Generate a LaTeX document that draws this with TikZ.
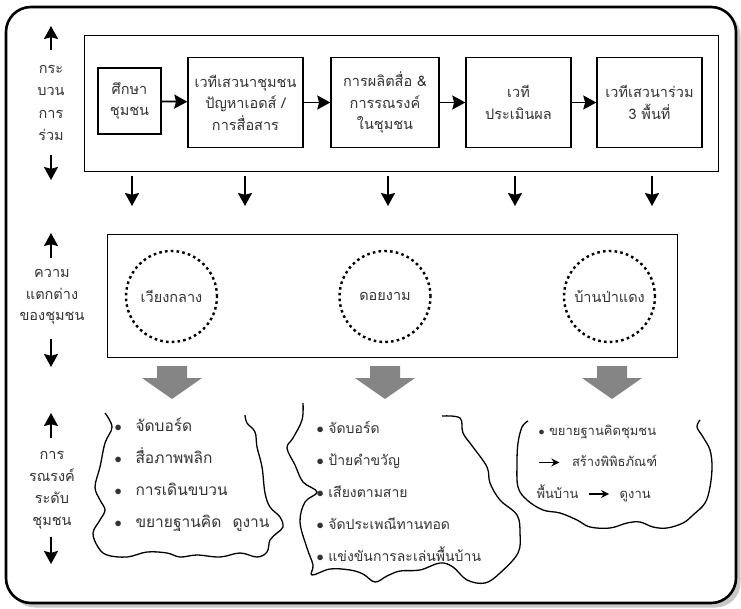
\documentclass[tikz,border=0pt]{standalone}
\usepackage{fontspec}
\setmainfont[Script=Thai]{Loma}
\usetikzlibrary{arrows.meta}
\definecolor{txt}{HTML}{333333}
\definecolor{blockgray}{HTML}{858585}
\definecolor{shadowgray}{HTML}{C8C8C8}
\newcommand\thaiarrow{\tikz[baseline=-0.6ex]\draw[-{Stealth[length=8pt,width=8pt]},line width=1.3pt,black](0pt,0pt)--(20pt,0pt);}
\tikzset{
  arr/.style={-{Stealth[length=13pt,width=14pt,inset=1.8pt]}, line width=1.8pt},
  stepbox/.style={draw, line width=1.4pt, align=center, text=txt, inner sep=2pt,
    font=\fontsize{14.5}{21.5}\selectfont},
  frame/.style={draw, line width=0.9pt},
  sidelabel/.style={align=center, text=txt, font=\fontsize{14.5}{22.5}\selectfont},
  village/.style={circle, draw, line width=2.4pt, dash pattern=on 2.6pt off 3.2pt,
    minimum size=91pt, text=txt, font=\fontsize{14.5}{17}\selectfont},
  blockarrow/.style={fill=blockgray},
  wavy/.style={line width=1.3pt, smooth, tension=0.6},
  listtext/.style={align=left, text=txt, anchor=west}
}
\begin{document}
\begin{tikzpicture}[x=1pt,y=-1pt]
\useasboundingbox (0,0) rectangle (741,608);
% outer frame with shadow
\fill[shadowgray, rounded corners=25pt] (10,11) rectangle (740.5,607.5);
\draw[line width=2.6pt, fill=white, rounded corners=25pt] (6,7) rectangle (736,603);

% ---- row 1: process ----
\node[frame, minimum width=634pt, minimum height=136pt] (procframe) at (401,103) {};
\node[stepbox, minimum width=63pt, minimum height=66pt] (s1) at (129.5,101) {ศึกษา\\ชุมชน};
\node[stepbox, minimum width=115pt, minimum height=90pt] (s2) at (245.5,102.5) {เวทีเสวนาชุมชน\\ปัญหาเอดส์ /\\การสื่อสาร};
\node[stepbox, minimum width=108pt, minimum height=90pt] (s3) at (385,102.5) {การผลิตสื่อ \&\\การรณรงค์\\ในชุมชน};
\node[stepbox, minimum width=105pt, minimum height=90pt] (s4) at (518.5,102.5) {เวที\\ประเมินผล};
\node[stepbox, minimum width=105pt, minimum height=90pt] (s5) at (649.5,102.5) {เวทีเสวนาร่วม\\3 พื้นที่};
\draw[arr] (s1) -- (s2);
\draw[arr] (s2) -- (s3);
\draw[arr] (s3) -- (s4);
\draw[arr] (s4) -- (s5);

% side label 1
\node[sidelabel] (lab1) at (51,103) {กระ\\บวน\\การ\\ร่วม};
\coordinate (u1a) at (51,50); \coordinate (u1b) at (51,26);
\coordinate (d1a) at (51,155); \coordinate (d1b) at (51,180);
\draw[arr] (u1a) -- (u1b);
\draw[arr] (d1a) -- (d1b);

% down arrows
\foreach \i/\xx in {1/132,2/245,3/388,4/515,5/652}{
  \coordinate (da\i) at (\xx,176);
  \coordinate (db\i) at (\xx,206);
  \draw[arr] (da\i) -- (db\i);
}

% ---- row 2: villages ----
\node[frame, minimum width=570pt, minimum height=123pt] (villframe) at (392,295.5) {};
\node[village] (v1) at (171.5,296.5) {เวียงกลาง};
\node[village] (v2) at (385,296.5) {ดอยงาม};
\node[village] (v3) at (609.5,296.5) {บ้านป่าแดง};

% side label 2
\node[sidelabel, font=\fontsize{14.5}{21.5}\selectfont] (lab2) at (52,297) {ความ\\แตกต่าง\\ของชุมชน};
\coordinate (u2a) at (51,258); \coordinate (u2b) at (51,233);
\coordinate (d2a) at (51,339); \coordinate (d2b) at (51,367);
\draw[arr] (u2a) -- (u2b);
\draw[arr] (d2a) -- (d2b);

% grey block arrows
\foreach \xx in {172,385,612}{
  \fill[blockarrow] (\xx-15,366) -- (\xx+15,366) -- (\xx+15,378) -- (\xx+30,378)
     -- (\xx,399) -- (\xx-30,378) -- (\xx-15,378) -- cycle;
}

% side label 3
\node[sidelabel, font=\fontsize{14.5}{22}\selectfont] (lab3) at (52,490) {การ\\รณรงค์\\ระดับ\\ชุมชน};
\coordinate (u3a) at (51,438); \coordinate (u3b) at (51,413);
\coordinate (d3a) at (51,537); \coordinate (d3b) at (51,564);
\draw[arr] (u3a) -- (u3b);
\draw[arr] (d3a) -- (d3b);

% ---- row 3: wavy outlines ----
\draw[wavy] plot coordinates {(105,413) (112,427) (105,443) (100,467) (95,487) (100,500) (105,510) (100,520) (93,533) (98,547) (107,555) (127,557) (147,552) (167,553) (180,557) (197,555) (220,557) (240,553) (257,557) (267,552) (270,540) (277,533) (283,527) (280,517) (270,507) (265,493) (262,467) (257,447) (255,432) (247,423) (245,415)};

\draw[wavy] plot coordinates {(303,403) (302,420) (293,438) (287,448) (295,465) (303,482) (317,492) (305,502) (300,522) (307,548) (313,565) (312,575) (330,569) (350,570) (363,574) (375,582) (387,576) (400,571) (420,570) (440,563) (453,567) (467,580) (485,583) (500,573) (518,553) (520,533) (517,515) (500,500) (490,483) (487,467) (473,447) (463,433) (460,418) (442,416)};

\draw[wavy] plot coordinates {(528,421) (522,427) (518,443) (517,463) (518,487) (527,500) (543,510) (560,513) (577,520) (590,527) (610,528) (627,523) (640,522) (653,527) (667,528) (683,523) (693,515) (705,503) (710,487) (712,467) (710,450) (703,437) (697,427) (700,420)};

% list texts
\node[listtext, font=\fontsize{15.5}{32}\selectfont] (list1) at (111,475)
  {\makebox[21pt][l]{$\bullet$}จัดบอร์ด\\
   \makebox[21pt][l]{$\bullet$}สื่อภาพพลิก\\
   \makebox[21pt][l]{$\bullet$}การเดินขบวน\\
   \makebox[21pt][l]{$\bullet$}ขยายฐานคิด\hspace{6pt} ดูงาน};
\node[listtext, font=\fontsize{14}{32}\selectfont] (list2) at (313,491)
  {$\bullet$ จัดบอร์ด\\
   $\bullet$ ป้ายคำขวัญ\\
   $\bullet$ เสียงตามสาย\\
   $\bullet$ จัดประเพณีทานทอด\\
   $\bullet$ แข่งขันการละเล่นพื้นบ้าน};
\node[listtext, font=\fontsize{13}{31.5}\selectfont] (list3) at (533,463)
  {\,$\bullet$ ขยายฐานคิดชุมชน\\
   \,\thaiarrow\hspace{12pt}สร้างพิพิธภัณฑ์\\
   พื้นบ้าน\hspace{10pt}\thaiarrow\hspace{10pt}ดูงาน};
\end{tikzpicture}
\end{document}
